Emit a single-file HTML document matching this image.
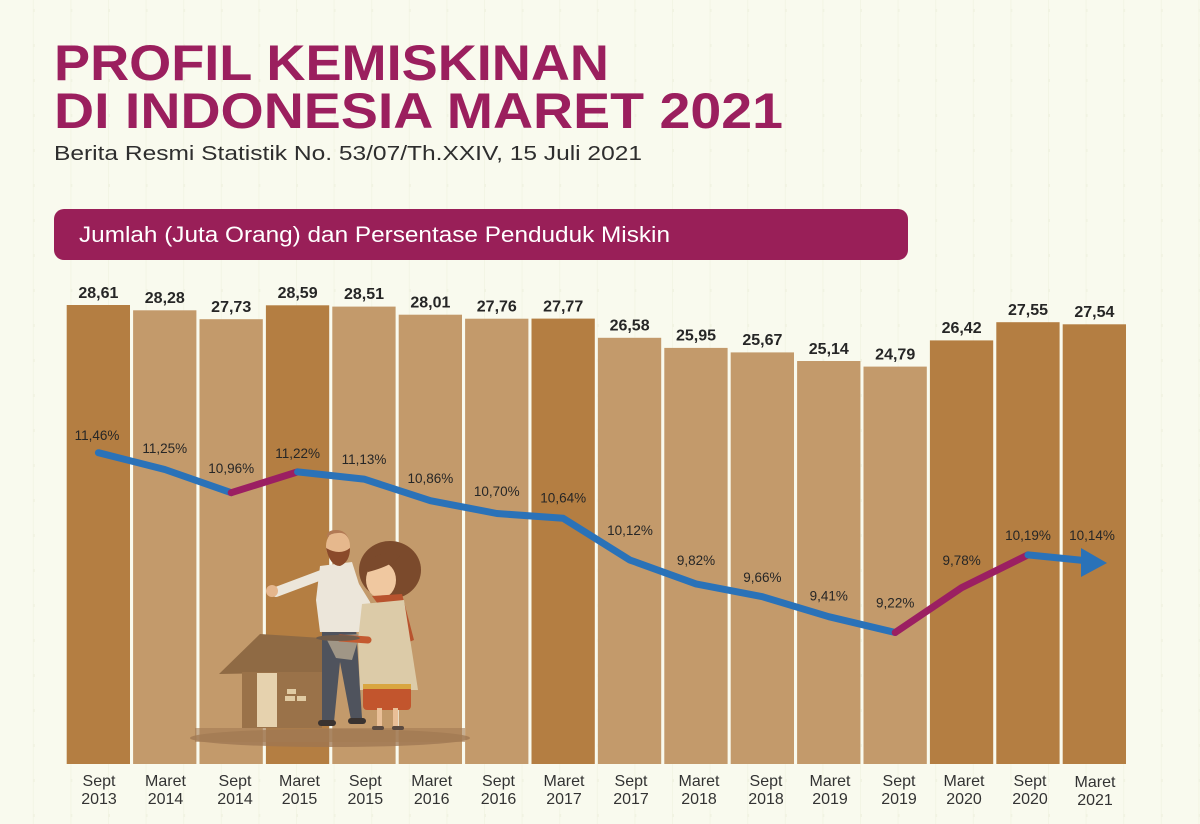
<!DOCTYPE html>
<html><head><meta charset="utf-8"><style>
html,body{margin:0;padding:0;background:#f9faee;}
svg{display:block;}
</style></head><body>
<svg width="1200" height="824" viewBox="0 0 1200 824" xmlns="http://www.w3.org/2000/svg">
<defs>
<pattern id="grid" x="32.8" y="0" width="37.6" height="35" patternUnits="userSpaceOnUse">
<rect x="0" y="0" width="1" height="35" fill="#f3f5e5"/>
<rect x="-1" y="9" width="3" height="3" fill="#f1f3e2"/>
</pattern>
</defs>
<rect width="1200" height="824" fill="#f9faee"/>
<rect width="1200" height="824" fill="url(#grid)"/>

<g font-family="'Liberation Sans', sans-serif">
<text x="54" y="80" font-size="50" font-weight="bold" fill="#9b1f5e" textLength="555" lengthAdjust="spacingAndGlyphs">PROFIL KEMISKINAN</text>
<text x="54" y="128" font-size="50" font-weight="bold" fill="#9b1f5e" textLength="729" lengthAdjust="spacingAndGlyphs">DI INDONESIA MARET 2021</text>
<text x="54" y="160" font-size="20" fill="#2e2e2e" textLength="588" lengthAdjust="spacingAndGlyphs">Berita Resmi Statistik No. 53/07/Th.XXIV, 15 Juli 2021</text>

<rect x="54" y="209" width="854" height="51" rx="10" fill="#991f58"/>
<text x="79" y="242" font-size="22" fill="#ffffff" textLength="591" lengthAdjust="spacingAndGlyphs">Jumlah (Juta Orang) dan Persentase Penduduk Miskin</text>
</g>

<!-- bars -->
<g>
<rect x="66.7" y="305.0" width="63.3" height="459.0" fill="#b47e42"/>
<rect x="133.1" y="310.3" width="63.3" height="453.7" fill="#c39a6b"/>
<rect x="199.5" y="319.2" width="63.3" height="444.8" fill="#c39a6b"/>
<rect x="265.9" y="305.3" width="63.3" height="458.7" fill="#b47e42"/>
<rect x="332.3" y="306.6" width="63.3" height="457.4" fill="#c39a6b"/>
<rect x="398.7" y="314.7" width="63.3" height="449.3" fill="#c39a6b"/>
<rect x="465.1" y="318.7" width="63.3" height="445.3" fill="#c39a6b"/>
<rect x="531.5" y="318.6" width="63.3" height="445.4" fill="#b47e42"/>
<rect x="597.9" y="337.8" width="63.3" height="426.2" fill="#c39a6b"/>
<rect x="664.3" y="347.9" width="63.3" height="416.1" fill="#c39a6b"/>
<rect x="730.7" y="352.4" width="63.3" height="411.6" fill="#c39a6b"/>
<rect x="797.1" y="361.0" width="63.3" height="403.0" fill="#c39a6b"/>
<rect x="863.5" y="366.6" width="63.3" height="397.4" fill="#c39a6b"/>
<rect x="929.9" y="340.4" width="63.3" height="423.6" fill="#b47e42"/>
<rect x="996.3" y="322.2" width="63.3" height="441.8" fill="#b47e42"/>
<rect x="1062.7" y="324.3" width="63.3" height="439.7" fill="#b47e42"/>
</g>

<!-- value labels -->
<g font-family="'Liberation Sans', sans-serif" font-size="16" font-weight="bold" fill="#262626" text-anchor="middle">
<text x="98.4" y="298">28,61</text>
<text x="164.8" y="303">28,28</text>
<text x="231.2" y="312">27,73</text>
<text x="297.6" y="298">28,59</text>
<text x="364.0" y="299">28,51</text>
<text x="430.4" y="307.5">28,01</text>
<text x="496.8" y="311.5">27,76</text>
<text x="563.2" y="311.5">27,77</text>
<text x="629.6" y="330.5">26,58</text>
<text x="696.0" y="340.5">25,95</text>
<text x="762.4" y="345">25,67</text>
<text x="828.8" y="354">25,14</text>
<text x="895.2" y="359.5">24,79</text>
<text x="961.6" y="333">26,42</text>
<text x="1028.0" y="315">27,55</text>
<text x="1094.4" y="317">27,54</text>
</g>

<!-- illustration -->
<g>
<ellipse cx="330" cy="738" rx="140" ry="9" fill="#9d7652" opacity="0.75"/>
<rect x="195" y="728" width="270" height="14" fill="#a47b54" opacity="0.6"/>
<!-- house -->
<polygon points="219,674 260,634 322,638 330,672" fill="#8f6a44"/>
<rect x="242" y="672" width="80" height="56" fill="#9a7249"/>
<rect x="257" y="673" width="20" height="54" fill="#e6d2ae"/>
<rect x="287" y="689" width="9" height="5" fill="#e1cba3"/>
<rect x="285" y="696" width="10" height="5" fill="#e1cba3"/>
<rect x="297" y="696" width="9" height="5" fill="#e1cba3"/>
<!-- man -->
<polygon points="322,627 356,627 362,718 351,720 340,662 334,722 322,722" fill="#4f535d"/>
<rect x="318" y="720" width="18" height="6" rx="3" fill="#3a3330"/>
<rect x="348" y="718" width="18" height="6" rx="3" fill="#3a3330"/>
<polygon points="320,566 352,562 364,600 360,632 320,632 316,600" fill="#ece6da"/>
<line x1="324" y1="574" x2="276" y2="592" stroke="#ece6da" stroke-width="10" stroke-linecap="round"/>
<circle cx="272" cy="591" r="6" fill="#e5b68c"/>
<line x1="350" y1="578" x2="366" y2="604" stroke="#ece6da" stroke-width="9" stroke-linecap="round"/>
<ellipse cx="338" cy="546" rx="12" ry="15" fill="#e6b88d"/>
<path d="M326,548 Q330,566 340,566 Q350,562 350,548 Q340,556 326,548 Z" fill="#8a4a2a"/>
<path d="M327,538 Q326,530 336,530 Q346,530 349,540 Q346,532 338,533 Q330,533 327,538 Z" fill="#b27a55"/>
<polygon points="325,636 360,634 352,660 336,658" fill="#a09686"/>
<!-- woman -->
<ellipse cx="390" cy="570" rx="31" ry="29" fill="#7b4a2c"/>
<ellipse cx="381" cy="580" rx="15" ry="18" fill="#f0c8a0"/>
<path d="M366,566 Q378,548 400,556 Q392,566 368,572 Z" fill="#7b4a2c"/>
<polygon points="372,596 402,594 414,640 404,644 396,604 378,604" fill="#b8532e"/>
<polygon points="362,604 404,600 418,690 360,690 358,640" fill="#dccba8"/>
<line x1="368" y1="640" x2="340" y2="638" stroke="#c45a30" stroke-width="7" stroke-linecap="round"/>
<ellipse cx="338" cy="638" rx="22" ry="3" fill="#6e5b4b"/>
<rect x="363" y="686" width="48" height="24" rx="4" fill="#c2552d"/>
<rect x="363" y="684" width="48" height="5" fill="#d9a640"/>
<rect x="377" y="708" width="5" height="20" fill="#e9bf97"/>
<rect x="393" y="708" width="5" height="20" fill="#e9bf97"/>
<rect x="372" y="726" width="12" height="4" rx="2" fill="#5a4a40"/>
<rect x="392" y="726" width="12" height="4" rx="2" fill="#5a4a40"/>
</g>

<!-- line -->
<g fill="none" stroke-width="7" stroke-linejoin="round" stroke-linecap="round">
<polyline points="98.4,452.7 164.8,469.5 231.2,492.7" stroke="#2a72b8"/>
<polyline points="231.2,492.7 297.6,471.9" stroke="#9b1f62"/>
<polyline points="297.6,471.9 364.0,479.1 430.4,500.7 496.8,513.5 563.2,518.3 629.6,559.9 696.0,583.9 762.4,596.7 828.8,616.7 895.2,632.5" stroke="#2a72b8"/>
<polyline points="895.2,632.5 961.6,587.7 1028.0,554.9" stroke="#9b1f62"/>
<polyline points="1028.0,554.9 1084,560.5" stroke="#2a72b8"/>
</g>
<polygon points="1081,548 1107,563 1081,577" fill="#2a72b8"/>

<!-- percent labels -->
<g font-family="'Liberation Sans', sans-serif" font-size="13.5" fill="#262626" text-anchor="middle">
<text x="97" y="440">11,46%</text>
<text x="164.8" y="453">11,25%</text>
<text x="231.2" y="473">10,96%</text>
<text x="297.6" y="458">11,22%</text>
<text x="364.0" y="464">11,13%</text>
<text x="430.4" y="483">10,86%</text>
<text x="496.8" y="496">10,70%</text>
<text x="563.2" y="502.7">10,64%</text>
<text x="630" y="535">10,12%</text>
<text x="696.0" y="565">9,82%</text>
<text x="762.4" y="582">9,66%</text>
<text x="828.8" y="600.7">9,41%</text>
<text x="895.2" y="607.7">9,22%</text>
<text x="961.6" y="565">9,78%</text>
<text x="1028.0" y="540">10,19%</text>
<text x="1092" y="540">10,14%</text>
</g>

<!-- category labels -->
<g font-family="'Liberation Sans', sans-serif" font-size="16" fill="#333333" text-anchor="middle">
<text x="99" y="786">Sept</text><text x="99" y="804">2013</text>
<text x="165.5" y="786">Maret</text><text x="165.5" y="804">2014</text>
<text x="235" y="786">Sept</text><text x="235" y="804">2014</text>
<text x="299.5" y="786">Maret</text><text x="299.5" y="804">2015</text>
<text x="365.3" y="786">Sept</text><text x="365.3" y="804">2015</text>
<text x="431.7" y="786">Maret</text><text x="431.7" y="804">2016</text>
<text x="498.5" y="786">Sept</text><text x="498.5" y="804">2016</text>
<text x="564" y="786">Maret</text><text x="564" y="804">2017</text>
<text x="631" y="786">Sept</text><text x="631" y="804">2017</text>
<text x="699" y="786">Maret</text><text x="699" y="804">2018</text>
<text x="766" y="786">Sept</text><text x="766" y="804">2018</text>
<text x="830" y="786">Maret</text><text x="830" y="804">2019</text>
<text x="899" y="786">Sept</text><text x="899" y="804">2019</text>
<text x="964" y="786">Maret</text><text x="964" y="804">2020</text>
<text x="1030" y="786">Sept</text><text x="1030" y="804">2020</text>
<text x="1095" y="787">Maret</text><text x="1095" y="805">2021</text>
</g>
</svg>
</body></html>
